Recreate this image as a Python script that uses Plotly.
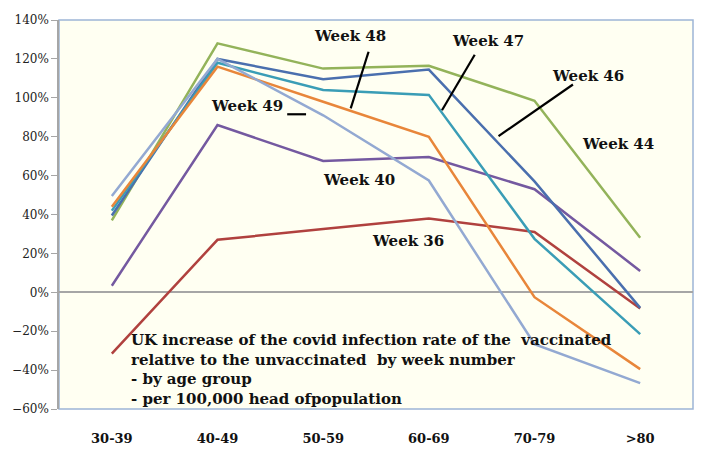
import plotly.graph_objects as go

categories = ["30-39", "40-49", "50-59", "60-69", "70-79", ">80"]

week36 = [-0.315, 0.27, 0.325, 0.38, 0.31, -0.083]
week40 = [0.034, 0.86, 0.675, 0.695, 0.53, 0.11]
week44 = [0.37, 1.28, 1.15, 1.165, 0.985, 0.28]
week46 = [0.395, 1.20, 1.095, 1.145, 0.57, -0.08]
week47 = [0.42, 1.18, 1.04, 1.015, 0.275, -0.215]
week48 = [0.44, 1.16, 0.98, 0.80, -0.025, -0.395]
week49 = [0.495, 1.20, 0.91, 0.575, -0.267, -0.467]

series = [
    ("Week 36", week36, "#B0413E"),
    ("Week 40", week40, "#7459A0"),
    ("Week 44", week44, "#93B35A"),
    ("Week 46", week46, "#4A6FAE"),
    ("Week 47", week47, "#3A9DB6"),
    ("Week 48", week48, "#E8863A"),
    ("Week 49", week49, "#93A9D2"),
]

ytick_vals = [-0.6, -0.4, -0.2, 0, 0.2, 0.4, 0.6, 0.8, 1.0, 1.2, 1.4]

fig = go.Figure()
for name, vals, col in series:
    fig.add_trace(go.Scatter(x=categories, y=vals, mode="lines", name=name,
                             line=dict(color=col, width=2.5)))

W, H = 707, 458
L, R, T, B = 54, 14, 20, 46
pw, ph = W - L - R, H - T - B


def px(x):
    return (x - L) / pw


def py(y):
    return (H - B - y) / ph


label_font = dict(family="DejaVu Serif", size=15, color="#111111")
labels = [
    ("Week 48", 347, 36),
    ("Week 47", 486, 41),
    ("Week 46", 587, 76),
    ("Week 44", 617, 145),
    ("Week 49", 243, 107),
    ("Week 40", 356, 181),
    ("Week 36", 406, 243),
]
for txt, x, y in labels:
    fig.add_annotation(text="<b>%s</b>" % txt, x=px(x), y=py(y), xref="paper", yref="paper",
                       showarrow=False, font=label_font, xanchor="center", yanchor="middle")

pointers = [
    (366, 52, 348, 109),
    (473, 55, 440, 111),
    (572, 85, 497, 137),
    (284, 115, 303, 115),
]
for x0, y0, x1, y1 in pointers:
    fig.add_shape(type="line", xref="paper", yref="paper", x0=px(x0), y0=py(y0), x1=px(x1), y1=py(y1),
                  line=dict(color="black", width=2.2))

fig.add_shape(type="rect", xref="paper", yref="paper", x0=0, y0=0, x1=1, y1=1,
              line=dict(color="#9DB5D6", width=1.5), layer="below")

box_text = ("<b>UK increase of the covid infection rate of the  vaccinated<br>"
            "relative to the unvaccinated  by week number<br>"
            "- by age group<br>"
            "- per 100,000 head ofpopulation</b>")
fig.add_annotation(text=box_text, x=px(125), y=py(331), xref="paper", yref="paper",
                   showarrow=False, align="left", xanchor="left", yanchor="top",
                   font=dict(family="DejaVu Serif", size=15, color="#111111"))

fig.update_layout(
    width=W, height=H,
    margin=dict(l=L, r=R, t=T, b=B),
    paper_bgcolor="white",
    plot_bgcolor="#FFFFF2",
    showlegend=False,
    xaxis=dict(type="category", range=[-0.5, 5.5], showgrid=False, zeroline=False,
               showline=False, ticks="", ticklabelstandoff=20,
               tickfont=dict(family="DejaVu Serif", size=13, color="#111111"),
               tickprefix="<b>", ticksuffix="</b>"),
    yaxis=dict(range=[-0.6, 1.4], tickvals=ytick_vals, tickformat=".0%",
               showgrid=False, zeroline=True, zerolinecolor="#A6A6A6", zerolinewidth=1.5,
               showline=True, linecolor="#A6A6A6", linewidth=1.5,
               ticks="outside", ticklen=6, tickcolor="#A6A6A6",
               tickfont=dict(family="DejaVu Serif", size=12, color="#222222")),
)

fig.write_html("out.html")
